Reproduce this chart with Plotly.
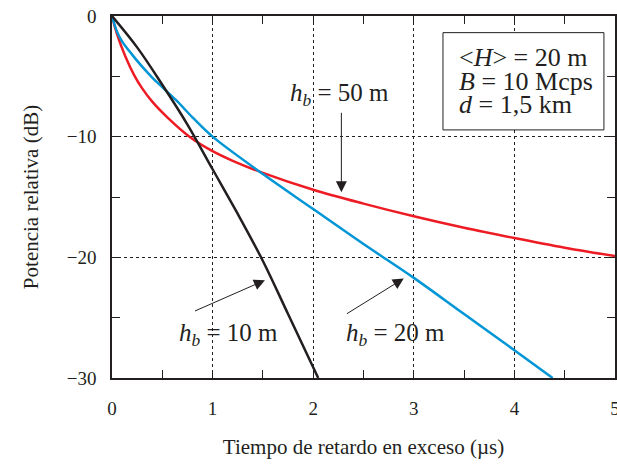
import plotly.graph_objects as go

# excess delay (us) vs relative power (dB)
x_10 = [0, 0.25, 0.5, 0.75, 1.0, 1.25, 1.5, 1.75, 2.05]
y_10 = [0, -2.6, -5.7, -9.0, -12.7, -16.4, -20.3, -24.7, -30]

x_20 = [0, 0.05, 0.1, 0.2, 0.3, 0.4, 0.5, 0.64, 0.8, 1.0, 1.5, 2.0, 2.5, 3.0, 3.5, 4.0, 4.38]
y_20 = [0, -1.3, -2.1, -3.2, -4.2, -5.1, -5.9, -7.0, -8.4, -10.0, -13.1, -16.0, -18.9, -21.7, -24.7, -27.7, -30]

x_50 = [0, 0.05, 0.13, 0.22, 0.3, 0.4, 0.55, 0.77, 1.0, 1.2, 1.5, 2.0, 2.5, 3.0, 3.5, 4.0, 4.5, 5.0]
y_50 = [0, -1.5, -3.3, -4.9, -6.0, -7.1, -8.4, -10.0, -11.2, -12.0, -13.0, -14.4, -15.55, -16.6, -17.55, -18.4, -19.2, -19.9]

x_ticks = [0, 1, 2, 3, 4, 5]
y_ticks = [0, -10, -20, -30]

box_lines = ["&lt;<i>H</i>&gt; = 20 m", "<i>B</i> = 10 Mcps", "<i>d</i> = 1,5 km"]

serif = "Liberation Serif, Times New Roman, serif"
ink = "#231f20"

fig = go.Figure()
fig.add_trace(go.Scatter(x=x_50, y=y_50, mode="lines", line=dict(color="#ed1c24", width=2.5, shape="spline")))
fig.add_trace(go.Scatter(x=x_20, y=y_20, mode="lines", line=dict(color="#0096d6", width=2.5, shape="spline")))
fig.add_trace(go.Scatter(x=x_10, y=y_10, mode="lines", line=dict(color=ink, width=2.5, shape="spline")))

# arrows pointing at each curve (tail x, tail y, head x, head y)
arrows = [
    (2.28, -7.9, 2.28, -14.6),
    (0.81, -24.5, 1.52, -21.9),
    (2.32, -24.75, 2.9, -21.75),
]
for ax, ay, x, y in arrows:
    fig.add_annotation(x=x, y=y, ax=ax, ay=ay, xref="x", yref="y", axref="x", ayref="y",
                       text="", showarrow=True, arrowhead=2, arrowsize=2.2, arrowwidth=1,
                       arrowcolor=ink)

labels = [
    (2.265, -6.5, "<i>h</i><sub><i>b</i></sub> = 50 m"),
    (1.157, -26.4, "<i>h</i><sub><i>b</i></sub> = 10 m"),
    (2.82, -26.4, "<i>h</i><sub><i>b</i></sub> = 20 m"),
]
for x, y, t in labels:
    fig.add_annotation(x=x, y=y, text=t, showarrow=False,
                       font=dict(family=serif, size=25, color=ink))

# parameter box
fig.add_shape(type="rect", x0=3.29, x1=4.89, y0=-9.44, y1=-1.38, xref="x", yref="y",
              line=dict(color=ink, width=1), fillcolor="white", layer="above")
for t, y in zip(box_lines, [-3.45, -5.45, -7.35]):
    fig.add_annotation(x=3.43, y=y, text=t, showarrow=False, xanchor="left", yanchor="middle",
                       font=dict(family=serif, size=26, color=ink))

axis_common = dict(showline=True, linecolor=ink, linewidth=1.5, mirror="ticks",
                   ticks="inside", ticklen=8, tickwidth=1.2, tickcolor=ink,
                   showgrid=True, gridcolor=ink, griddash="dot", gridwidth=1,
                   zeroline=False, ticklabeloverflow="allow",
                   tickfont=dict(family=serif, size=19, color=ink))

fig.update_xaxes(range=[0, 5], tickvals=x_ticks, ticklabelstandoff=12,
                 minor=dict(dtick=0.5, ticks="inside", ticklen=8, tickcolor=ink, showgrid=False),
                 title=dict(text="Tiempo de retardo en exceso (µs)", standoff=22,
                            font=dict(family=serif, size=21, color=ink)),
                 **axis_common)
fig.update_yaxes(range=[-30, 0], tickvals=y_ticks, ticklabelstandoff=10,
                 minor=dict(dtick=5, ticks="inside", ticklen=8, tickcolor=ink, showgrid=False),
                 title=dict(text="Potencia relativa (dB)", standoff=22,
                            font=dict(family=serif, size=21, color=ink)),
                 **axis_common)

# figure is a bit wider than the window so the right axis falls just outside it
fig.update_layout(width=625, height=468, showlegend=False,
                  margin=dict(l=112, r=5, t=16, b=90),
                  plot_bgcolor="white", paper_bgcolor="white")

# no page margin and no scrollbars, so the figure sits at the window's corner
fig.write_html("out.html", config={"displayModeBar": False},
               post_script="document.body.style.margin='0';"
               "document.documentElement.style.overflow='hidden';"
               "document.body.style.overflow='hidden';")
